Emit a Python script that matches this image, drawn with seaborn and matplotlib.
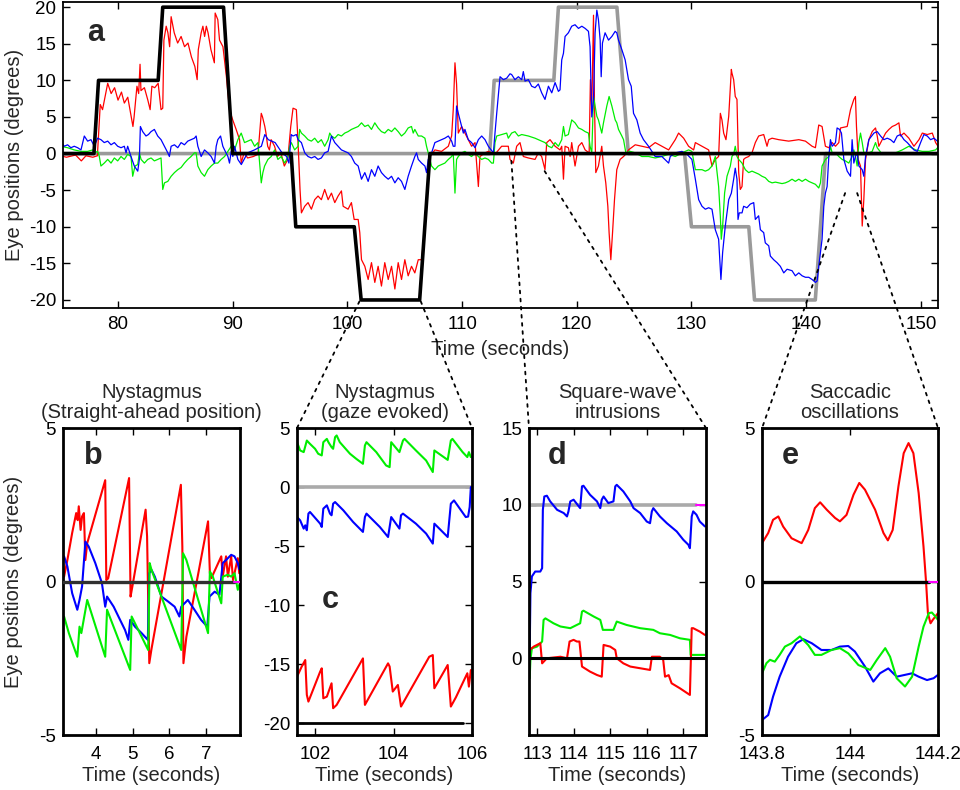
import matplotlib
matplotlib.use('Agg')
import matplotlib.pyplot as plt
from matplotlib.patches import ConnectionPatch
import pandas as pd
import seaborn as sns

sns.set_style('ticks')
plt.rcParams['font.family'] = ['Liberation Sans', 'DejaVu Sans']
plt.rcParams['axes.unicode_minus'] = False

RED, GREEN, BLUE = '#ff0000', '#00ee00', '#0000ff'
GRAY, MAGENTA = '#9a9a9a', '#ff00ff'

# ---- panel a : whole recording (time s, eye position deg) ----
a_black = [(75.2, 0), (77.9, 0), (78.3, 10), (83.5, 10), (83.9, 20), (89.2, 20), (90.0, 0), (95.1, 0),
           (95.5, -10), (100.6, -10), (101.2, -20), (106.3, -20), (107.2, 0), (151.5, 0)]
a_gray = [(75.2, 0), (112.4, 0), (112.8, 10), (118.0, 10), (118.4, 20), (123.5, 20), (124.5, 0), (129.4, 0),
          (130.0, -10), (135.0, -10), (135.5, -20), (140.8, -20), (141.7, 0), (151.5, 0)]

a_red = [(75.0,-0.3),(75.5,-0.5),(76.3,-0.2),(76.8,-1.0),(77.2,-0.3),(77.8,-0.5),(78.2,-0.3),(78.3,2.4),(78.45,6.7),(78.65,6.0),(79.1,9.6),(79.4,8.2),(79.7,9.0),(80.0,7.3),(80.3,8.4),(80.55,6.9),(80.85,7.7),(81.1,5.5),(81.3,3.7),(81.4,5.0),(81.65,9.2),(81.8,8.2),(81.92,12.2),(82.0,8.6),(82.3,9.0),(82.6,7.3),(82.8,6.0),(82.95,9.2),(83.2,9.0),(83.5,9.6),(83.75,6.0),(83.9,6.2),(84.0,15.5),(84.2,17.4),(84.35,16.5),(84.5,14.6),(84.63,18.7),(84.9,16.5),(85.2,15.1),(85.5,16.0),(85.8,14.6),(86.1,15.1),(86.4,13.2),(86.7,11.9),(86.9,10.1),(87.0,14.2),(87.25,16.5),(87.4,17.4),(87.55,16.0),(87.7,17.4),(87.85,16.5),(88.1,14.2),(88.4,12.4),(88.47,19.2),(88.7,18.3),(88.85,15.5),(89.15,14.6),(89.45,10.5),(89.72,6.0),(90.0,4.6),(90.3,3.3),(90.6,1.9),(90.74,-1.3),(90.9,-0.4),(91.0,0.1),(91.3,-0.6),(91.8,-0.4),(92.2,-0.1),(92.49,5.5),(92.6,5.0),(92.8,3.7),(92.9,2.8),(93.05,1.0),(93.2,0.5),(93.35,1.9),(93.65,1.0),(93.9,-0.4),(94.2,0.1),(94.5,-1.7),(94.8,-0.8),
         (95.06,3.7),(95.26,6.2),(95.55,6.0),(95.64,3.3),(95.75,-0.4),(95.87,-4.9),(95.99,-8.1),(96.28,-7.2),(96.57,-6.7),(96.86,-7.6),(97.15,-6.3),(97.44,-5.8),(97.73,-6.3),(98.02,-4.9),(98.32,-6.3),(98.61,-5.4),(98.9,-6.7),(99.19,-5.8),(99.48,-5.1),(99.63,-7.2),(100.06,-7.6),(100.35,-6.7),(100.59,-9.0),(100.94,-9.0),(101.08,-10.8),(101.23,-14.5),(101.52,-15.4),(101.81,-17.2),(102.1,-14.9),(102.39,-17.6),(102.68,-15.4),(102.97,-18.1),(103.26,-14.9),(103.56,-17.2),(103.85,-15.4),(104.14,-18.5),(104.43,-14.9),(104.72,-17.2),(105.01,-14.5),(105.3,-16.7),(105.59,-15.4),(105.88,-16.3),(106.18,-14.5),(106.47,-14.5),(106.7,-10.8),(106.9,-7.2),(107.05,-2.6),(107.2,-0.4),(107.63,0.5),(108.21,0.3),(108.8,1.0),(109.09,2.4),(109.23,6.0),(109.38,12.4),(109.52,9.5),(109.67,2.8),(109.96,3.7),(110.25,2.8),(110.54,1.9),(110.83,1.0),(111.13,1.5),(111.42,-4.5),(111.56,-0.4),(112.0,0.1),(112.29,0.3),(112.87,-0.1),
         (113.45,1.0),(114.03,1.0),(114.18,-0.8),(114.47,-1.3),(114.76,1.0),(115.05,1.5),(115.34,-0.4),(115.78,-0.6),(116.36,-0.8),(116.65,0.1),(116.94,-0.4),(117.23,-2.2),(117.38,1.5),(117.67,1.9),(118.11,1.0),(118.54,0.5),(118.69,1.0),(118.84,-3.5),(118.98,1.0),(119.27,0.8),(119.42,-0.4),(119.56,1.5),(119.85,-1.7),(120.15,1.0),(120.44,1.5),(120.73,0.5),(121.08,0.1),(121.19,10.1),(121.31,6.0),(121.46,18.9),(121.54,7.4),(121.66,-2.6),(121.89,-1.7),(122.18,1.0),(122.33,-1.7),(122.53,-4.0),(122.71,-7.2),(122.82,-10.8),(122.97,-14.5),(123.12,-10.8),(123.29,-6.3),(123.49,-2.2),(123.78,-0.8),(124.08,-0.4),(124.37,0.1),(124.51,0.5),(125.1,1.2),(125.68,1.0),(126.26,0.8),(126.84,1.5),(127.42,1.0),(128.01,0.5),(128.59,1.9),(128.88,2.8),(129.32,2.1),(129.75,1.0),(130.19,0.5),(130.34,1.5),(130.92,1.0),(131.5,0.5),(131.79,-1.7),(132.08,-0.8),(132.37,-0.4),(132.52,5.5),(132.66,4.6),(132.81,2.8),(133.01,1.9),(133.25,5.1),(133.48,11.5),
         (133.53,11.0),(133.68,10.1),(133.82,7.8),(133.97,7.4),(134.06,1.0),(134.12,-2.6),(134.26,-4.9),(134.41,-4.5),(134.55,-0.8),(134.7,-0.6),(134.99,-0.4),(135.28,0.1),(135.57,1.5),(135.86,2.4),(136.3,2.6),(136.59,1.0),(136.74,1.9),(137.03,2.1),(137.61,1.9),(138.48,1.7),(139.36,1.9),(139.94,1.7),(140.52,1.0),(140.81,0.8),(141.1,3.9),(141.39,3.7),(141.68,1.0),(141.98,0.8),(142.27,1.5),(142.56,1.0),(142.85,1.5),(143.0,3.5),(143.58,3.7),(143.87,6.0),(144.16,7.4),(144.3,7.8),(144.39,3.7),(144.54,-0.8),(144.74,-1.7),(144.89,-9.9),(145.03,-6.3),(145.18,-0.8),(145.47,1.9),(145.76,3.0),(146.05,3.5),(146.2,2.4),(146.34,1.0),(146.63,1.9),(146.93,2.8),(147.22,3.3),(147.51,3.7),(147.8,3.9),(148.09,4.2),(148.23,2.4),(148.53,2.8),(148.96,2.1),(149.4,1.0),(149.84,1.9),(150.13,2.8),(150.56,2.6),(151.0,2.8),(151.29,1.5),(151.58,0.8)]

a_blue = [(75.0,1.7),(75.31,1.0),(75.6,1.2),(75.89,0.8),(76.18,1.0),(76.48,0.8),(76.77,0.5),(77.06,2.4),(77.35,1.7),(77.64,1.9),(77.93,1.0),(78.22,2.1),(78.51,1.9),(78.8,1.5),(79.1,1.7),(79.39,1.2),(79.68,1.5),(79.97,1.0),(80.26,0.8),(80.55,1.0),(80.7,0.1),(80.84,1.0),(81.13,-0.4),(81.42,-1.7),(81.72,-2.4),(81.86,-0.8),(81.95,3.7),(82.15,3.0),(82.44,2.4),(82.65,2.6),(82.88,3.0),(83.17,3.3),(83.46,2.4),(83.75,1.9),(84.05,1.0),(84.34,0.1),(84.48,-0.4),(84.63,1.0),(84.92,1.2),(85.21,0.8),(85.5,1.5),(85.79,1.2),(86.08,1.7),(86.37,1.9),(86.66,2.1),(86.81,2.4),(86.96,1.0),(87.25,-0.4),(87.54,0.5),(87.83,0.1),(88.12,-0.4),(88.41,-1.3),(88.56,1.0),(88.7,1.9),(88.94,2.4),(89.14,1.0),(89.29,0.5),(89.58,-0.4),(89.72,-1.3),(89.87,0.3),(90.01,-0.4),(90.16,1.0),(90.45,-0.8),(90.75,-1.5),(91.3,0.1),(91.9,0.5),(92.5,1.0),(92.8,2.6),(93.1,1.9),(93.7,1.5),(94.3,0.1),(94.7,-0.4),(94.9,-1.3),(95.1,2.6),
          (95.26,2.4),(95.55,2.6),(95.7,1.9),(95.99,1.5),(96.28,0.1),(96.57,-0.4),(96.86,-0.6),(97.15,-0.4),(97.44,-0.8),(97.73,-0.6),(98.02,0.1),(98.32,0.3),(98.61,2.4),(98.9,1.5),(99.19,1.0),(99.48,0.5),(99.77,0.3),(100.06,0.1),(100.35,-0.4),(100.64,-1.3),(100.94,-1.7),(101.23,-3.5),(101.52,-2.6),(101.81,-3.8),(102.1,-2.2),(102.39,-3.1),(102.68,-1.7),(102.97,-2.6),(103.26,-3.1),(103.56,-3.5),(103.85,-3.1),(104.14,-4.0),(104.43,-3.3),(104.72,-3.8),(105.01,-4.9),(105.3,-3.1),(105.59,-1.7),(105.88,-0.4),(106.03,0.1),(106.18,-0.8),(106.47,-1.3),(106.76,-1.7),(106.9,-2.6),(107.05,-0.8),(107.34,0.1),(107.63,1.5),(107.92,1.7),(108.21,1.9),(108.5,2.1),(108.8,2.4),(109.09,1.7),(109.23,1.0),(109.38,1.0),(109.52,6.5),(109.67,5.5),(109.96,3.7),(110.11,2.8),(110.25,3.3),(110.54,1.9),(110.83,1.5),(111.13,0.8),(111.42,1.9),(111.71,2.4),(112.0,1.9),(112.29,1.0),(112.73,0.1),(112.87,2.8),(113.02,5.5),(113.31,10.5),(113.6,10.1),(113.89,10.3),(114.18,10.9),
          (114.32,10.8),(114.61,10.1),(114.91,10.5),(115.2,10.1),(115.34,11.2),(115.49,9.9),(115.78,10.1),(116.07,9.2),(116.36,9.0),(116.65,9.5),(116.94,8.3),(117.23,7.4),(117.53,9.2),(117.82,8.3),(118.11,9.7),(118.4,8.5),(118.54,8.7),(118.69,12.8),(118.84,13.7),(118.98,16.0),(119.27,16.5),(119.56,17.4),(119.85,17.6),(120.15,17.1),(120.44,17.4),(120.73,17.1),(121.02,16.7),(121.16,14.6),(121.31,5.0),(121.46,7.4),(121.6,16.5),(121.75,19.6),(121.89,18.3),(122.04,15.5),(122.13,10.5),(122.24,15.1),(122.47,16.5),(122.77,15.5),(123.06,16.0),(123.35,16.7),(123.49,16.5),(123.64,15.5),(123.93,14.2),(124.22,12.8),(124.51,10.1),(124.75,9.2),(124.95,5.5),(125.24,4.6),(125.53,2.8),(125.82,1.9),(126.26,1.0),(126.84,-0.4),(127.42,-0.4),(128.01,-1.3),(128.15,-0.4),(128.59,0.1),(129.17,0.3),(129.61,-0.1),(130.04,-0.8),(130.34,-3.5),(130.63,-6.3),(130.92,-7.2),(131.21,-7.6),(131.5,-7.4),(131.79,-7.6),(132.08,-10.4),(132.37,-11.7),(132.57,-17.2),(132.72,-13.5),(132.95,-9.9),(133.25,-6.3),(133.48,-5.4),
          (133.68,-3.5),(133.82,-2.0),(133.97,-3.5),(134.06,-9.0),(134.17,-8.1),(134.41,-8.1),(134.55,-7.2),(134.84,-7.4),(135.13,-6.9),(135.43,-6.7),(135.57,-9.0),(135.86,-8.5),(136.01,-10.4),(136.3,-10.8),(136.44,-12.2),(136.74,-12.6),(136.88,-14.0),(137.17,-14.5),(137.46,-14.9),(137.75,-15.4),(138.05,-16.3),(138.34,-15.8),(138.77,-16.0),(139.06,-16.7),(139.36,-16.3),(139.65,-16.7),(139.94,-16.9),(140.23,-16.9),(140.52,-17.2),(140.81,-17.6),(140.96,-17.4),(141.1,-15.4),(141.25,-13.5),(141.39,-11.7),(141.54,-7.2),(141.68,-5.4),(141.83,-4.5),(141.98,-0.4),(142.12,1.9),(142.27,1.0),(142.56,1.5),(142.7,3.5),(142.91,3.3),(143.08,2.8),(143.29,-0.8),(143.58,-2.4),(143.87,-3.1),(144.01,1.9),(144.16,-1.3),(144.3,-0.4),(144.45,0.1),(144.6,-1.7),(144.89,-2.2),(145.03,-3.1),(145.18,-0.4),(145.47,1.9),(145.91,2.8),(146.2,3.0),(146.49,2.4),(146.78,1.9),(147.07,2.1),(147.36,1.9),(147.65,1.5),(147.94,2.4),(148.23,2.6),(148.53,1.9),(148.82,1.5),(149.11,1.0),(149.4,0.5),(149.69,0.3),(149.98,1.5),(150.27,2.6),(150.56,2.4),(150.85,1.9),(151.15,2.1),(151.44,1.7),(151.64,1.5)]

a_green = [(75.02,1.0),(75.6,0.8),(76.18,0.5),(76.77,0.3),(77.35,0.3),(77.79,0.5),(77.93,0.1),(78.22,0.3),(78.37,-0.4),(78.51,-1.7),(78.8,-1.3),(79.1,-0.8),(79.39,-1.3),(79.68,-0.6),(79.97,-1.0),(80.26,-0.4),(80.55,-0.8),(80.84,-0.1),(81.13,-0.4),(81.28,-3.1),(81.48,-1.7),(81.72,-1.5),(81.86,0.1),(82.01,-0.8),(82.3,-1.3),(82.59,-0.8),(82.88,-0.6),(83.17,-1.0),(83.46,-0.8),(83.75,-0.6),(83.9,-4.9),(84.05,-4.0),(84.34,-3.8),(84.63,-3.1),(84.92,-2.6),(85.21,-2.2),(85.5,-1.9),(85.79,-1.3),(86.08,-0.8),(86.37,-0.4),(86.66,0.1),(86.81,0.1),(86.96,-1.7),(87.25,-2.6),(87.54,-3.1),(87.83,-2.2),(88.12,-1.7),(88.41,-1.3),(88.7,-1.3),(88.99,-0.8),(89.29,-0.4),(89.58,0.3),(89.87,1.0),(90.16,0.5),(90.45,1.9),(90.74,2.8),(91.03,1.5),(91.32,1.7),(91.61,1.9),(91.91,1.0),(92.2,1.5),(92.49,-4.0),(92.63,-2.6),(92.78,-1.7),(93.07,-0.8),(93.36,-0.4),(93.65,0.5),(93.94,-0.8),(94.23,-0.4),(94.53,-1.3),(94.82,-0.4),
           (94.97,1.0),(95.11,1.5),(95.4,0.5),(95.7,1.0),(95.84,3.3),(95.99,2.8),(96.28,2.4),(96.57,1.9),(96.86,1.7),(97.15,2.1),(97.44,1.5),(97.73,1.9),(98.02,1.0),(98.32,1.9),(98.46,2.8),(98.61,2.4),(98.9,2.1),(99.19,2.6),(99.48,2.4),(99.77,2.8),(100.06,3.0),(100.35,3.3),(100.64,3.5),(100.94,3.7),(101.23,4.2),(101.52,3.7),(101.81,3.9),(102.1,3.3),(102.39,4.2),(102.68,3.5),(102.97,3.0),(103.26,2.8),(103.56,3.3),(103.85,3.0),(104.14,3.5),(104.43,3.0),(104.72,2.4),(105.01,2.8),(105.3,3.5),(105.59,3.7),(105.74,2.8),(105.88,3.3),(106.18,2.4),(106.47,2.4),(106.76,2.1),(106.9,1.0),(107.05,0.1),(107.34,-1.7),(107.63,-2.2),(107.92,-1.7),(108.21,-1.5),(108.5,-1.3),(108.8,-0.8),(109.09,-0.4),(109.23,0.1),(109.38,-5.4),(109.52,-0.8),(109.67,-0.4),(109.96,0.1),(110.25,0.3),(110.54,-0.1),(110.83,-0.4),(111.13,0.1),(111.42,-0.4),(111.71,-0.8),(112.0,-0.6),(112.29,-0.8),(112.58,-1.3),(112.73,-1.3),(112.87,1.5),(113.02,2.4),(113.45,2.6),(113.89,2.8),
           (114.03,2.1),(114.32,2.8),(114.61,3.0),(114.91,2.4),(115.2,2.6),(115.78,2.4),(116.36,2.1),(116.65,1.9),(116.94,1.7),(117.23,1.5),(117.53,1.0),(117.82,0.8),(118.11,1.5),(118.4,1.0),(118.69,1.9),(118.84,3.7),(118.98,2.4),(119.27,2.6),(119.56,4.6),(119.85,4.2),(120.15,3.5),(120.44,3.3),(120.73,3.0),(121.02,2.8),(121.16,1.0),(121.31,0.1),(121.46,7.8),(121.6,6.5),(121.75,5.1),(121.89,4.6),(122.18,2.8),(122.33,4.2),(122.62,6.5),(122.82,7.8),(123.06,6.5),(123.35,4.6),(123.49,4.2),(123.64,3.3),(123.93,2.4),(124.08,1.9),(124.28,0.1),(124.66,0.3),(125.1,0.1),(125.68,-0.4),(126.26,-0.4),(126.84,-0.6),(127.42,-0.4),(128.01,-0.1),(128.59,-0.4),(129.17,0.1),(129.75,0.5),(130.04,0.3),(130.34,-2.2),(130.63,-2.2),(130.92,-2.2),(131.21,-2.4),(131.5,-2.2),(131.79,-1.7),(132.08,-0.4),(132.37,-4.5),(132.52,-8.6),(132.6,-11.7),(132.72,-9.9),(132.89,-5.4),(133.1,-3.1),(133.39,-1.7),
           (133.53,-0.4),(133.68,-0.1),(133.82,1.0),(133.97,-0.4),(134.12,-0.8),(134.41,-1.3),(134.7,-2.2),(134.99,-2.6),(135.28,-2.4),(135.57,-2.6),(135.86,-2.8),(136.15,-3.1),(136.44,-3.3),(136.74,-3.8),(137.03,-4.0),(137.32,-3.9),(137.61,-4.0),(137.9,-4.1),(138.19,-4.0),(138.48,-3.8),(138.77,-3.5),(139.06,-3.8),(139.36,-3.5),(139.65,-3.8),(139.94,-3.5),(140.23,-3.8),(140.52,-4.0),(140.81,-4.2),(141.1,-4.7),(141.25,-4.0),(141.39,-1.7),(141.68,-0.8),(141.98,-0.4),(142.12,1.0),(142.27,0.1),(142.56,0.1),(142.85,-0.4),(143.14,-0.8),(143.43,-1.0),(143.72,-1.3),(144.01,-0.4),(144.16,0.5),(144.3,-0.4),(144.45,-1.7),(144.6,1.5),(144.74,2.8),(144.89,1.5),(145.03,0.1),(145.47,0.1),(145.76,0.3),(146.05,1.5),(146.2,0.8),(146.63,-0.1),(147.22,-0.1),(147.8,0.1),(148.38,0.5),(148.96,1.0),(149.55,0.5),(150.13,0.3),(150.71,0.3),(151.29,0.5),(151.58,1.0)]

# ---- panel b : nystagmus, straight-ahead ----
b_red = [(3.13,0.16),(3.22,0.7),(3.35,1.58),(3.46,2.23),(3.5,2.0),(3.53,2.45),(3.58,1.68),(3.62,2.12),(3.67,2.23),(3.71,0.7),(3.76,1.25),(4.25,3.3),(4.28,0.05),(4.33,0.1),(4.9,3.37),(4.94,-0.49),(4.99,-0.16),(5.35,2.34),(5.39,1.47),(5.45,-2.66),(5.51,-2.2),(6.31,3.15),(6.35,1.14),(6.38,-2.66),(6.46,-1.8),(7.05,1.96),(7.1,0.27),(7.14,0.11),(7.41,0.82),(7.45,0.16),(7.54,0.82),(7.59,0.16),(7.68,0.82),(7.73,0.05),(7.86,0.76),(7.9,0.27)]
b_blue = [(3.13,0.82),(3.22,0.49),(3.35,-0.38),(3.49,-0.92),(3.55,-0.6),(3.62,-0.16),(3.71,1.3),(3.8,1.14),(3.98,0.6),(4.16,-0.05),(4.25,-0.82),(4.3,-0.49),(4.48,-0.82),(4.61,-1.14),(4.79,-1.58),(4.88,-1.9),(4.93,-1.25),(5.06,-1.47),(5.24,-1.68),(5.41,-1.9),(5.45,0.27),(5.51,0.38),(5.6,0.16),(5.69,-0.16),(5.78,-0.49),(5.96,-0.65),(6.14,-0.82),(6.27,-1.14),(6.32,-0.82),(6.5,-0.6),(6.68,-0.92),(6.86,-1.25),(7.03,-1.47),(7.09,-0.49),(7.23,-0.33),(7.36,-0.43),(7.45,0.6),(7.54,0.7),(7.68,0.87),(7.77,0.82),(7.86,0.6),(7.9,0.4)]
b_green = [(3.13,-1.14),(3.26,-1.68),(3.49,-2.45),(3.55,-1.47),(3.6,-1.68),(3.76,-0.6),(4.25,-2.45),(4.3,-0.92),(4.93,-2.88),(4.97,-1.14),(5.42,-2.23),(5.46,0.6),(5.51,0.38),(6.32,-2.23),(6.37,0.92),(6.46,0.7),(7.05,-1.68),(7.1,0.33),(7.18,0.16),(7.41,-0.71),(7.45,0.16),(7.59,0.22),(7.68,0.16),(7.77,0.27),(7.86,-0.27),(7.9,-0.1)]
b_zero = [(3.1, 0), (7.75, 0)]
b_end = [(7.75, 0), (7.92, 0)]

# ---- panel c : gaze-evoked nystagmus ----
c_green = [(101.54,3.8),(101.62,3.1),(101.71,2.96),(101.79,3.94),(101.87,3.66),(102.0,3.24),(102.08,2.82),(102.17,2.68),(102.21,3.8),(102.3,4.08),(102.34,3.8),(102.42,3.38),(102.46,3.24),(102.51,4.23),(102.55,4.37),(102.63,3.8),(102.89,2.82),(103.05,2.39),(103.22,1.97),(103.27,3.52),(103.31,3.8),(103.56,2.96),(103.81,1.83),(103.9,1.69),(103.94,3.8),(104.15,2.96),(104.24,3.94),(104.28,4.08),(104.57,3.1),(104.83,2.25),(105.0,1.27),(105.04,3.1),(105.38,2.3),(105.46,3.94),(105.5,4.08),(105.76,2.96),(105.88,2.54),(105.92,2.96),(105.97,2.54)]
c_blue = [(101.54,-2.54),(101.62,-2.82),(101.71,-3.52),(101.75,-3.24),(101.79,-3.66),(101.83,-2.25),(101.87,-2.11),(102.13,-3.1),(102.17,-3.38),(102.21,-1.83),(102.3,-1.55),(102.38,-2.25),(102.42,-2.39),(102.46,-1.41),(102.51,-1.27),(102.72,-1.97),(102.97,-2.96),(103.22,-3.8),(103.27,-2.54),(103.31,-2.25),(103.65,-3.38),(103.86,-4.23),(103.94,-2.54),(104.15,-3.52),(104.19,-2.39),(104.24,-2.25),(104.57,-3.1),(104.83,-3.94),(105.0,-4.79),(105.04,-3.1),(105.38,-4.23),(105.46,-1.41),(105.54,-1.13),(105.84,-2.54),(105.9,-2.5),(105.94,-1.69),(105.97,0.0)]
c_red = [(101.54,-16.06),(101.66,-15.2),(101.75,-14.65),(101.79,-17.6),(101.83,-18.17),(102.13,-15.63),(102.17,-15.35),(102.21,-17.89),(102.3,-17.75),(102.42,-16.62),(102.46,-18.73),(102.55,-18.45),(103.22,-14.51),(103.27,-18.45),(103.86,-14.93),(103.9,-15.2),(103.98,-17.32),(104.11,-16.76),(104.19,-18.59),(104.91,-14.37),(105.0,-14.23),(105.04,-17.04),(105.38,-15.07),(105.46,-18.59),(105.59,-17.8),(105.88,-15.77),(105.92,-16.9),(105.97,-15.5)]
c_gray = [(101.54, 0), (106.0, 0)]
c_black = [(101.54, -20), (105.76, -20)]

# ---- panel d : square-wave intrusions ----
d_blue = [(112.8,0.33),(112.82,4.24),(112.86,5.33),(112.95,5.65),(113.09,5.65),(113.14,5.87),(113.16,9.67),(113.2,10.54),(113.27,10.59),(113.36,10.22),(113.55,9.67),(113.73,9.46),(113.82,9.24),(113.86,9.57),(113.91,10.22),(114.0,10.33),(114.18,9.78),(114.23,11.2),(114.27,11.24),(114.45,10.65),(114.64,10.22),(114.73,9.78),(114.77,10.33),(114.82,10.54),(114.95,10.11),(115.09,10.22),(115.14,11.2),(115.18,11.3),(115.36,10.87),(115.55,10.22),(115.64,9.78),(115.82,9.46),(116.0,8.91),(116.09,8.8),(116.14,9.57),(116.18,9.78),(116.36,9.24),(116.55,8.8),(116.82,8.26),(117.0,7.72),(117.14,7.39),(117.18,7.17),(117.23,9.24),(117.27,9.57),(117.36,9.35),(117.45,8.91),(117.59,8.59)]
d_green = [(112.8,-1.3),(112.82,-0.1),(112.86,0.65),(113.0,0.76),(113.14,1.09),(113.18,2.5),(113.23,2.6),(113.45,2.28),(113.64,2.07),(113.91,1.96),(114.18,2.28),(114.23,3.04),(114.27,3.1),(114.55,2.72),(114.73,2.5),(114.8,1.85),(115.09,1.85),(115.18,2.39),(115.45,2.17),(115.82,1.96),(116.18,1.85),(116.36,1.63),(116.64,1.52),(116.91,1.3),(117.18,1.2),(117.2,0.22),(117.59,0.22)]
d_red = [(112.8,0.54),(112.91,0.76),(113.09,0.98),(113.14,-0.33),(113.27,0.0),(113.64,0.1),(113.82,0.0),(113.89,1.09),(114.0,1.2),(114.09,1.09),(114.16,1.09),(114.23,-0.54),(114.45,-0.87),(114.64,-1.09),(114.77,-1.2),(114.82,0.87),(115.0,0.76),(115.14,0.54),(115.18,0.0),(115.36,-0.33),(115.55,-0.54),(115.82,-0.65),(116.09,-0.76),(116.14,0.1),(116.36,0.1),(116.45,-0.1),(116.5,-1.2),(116.6,-1.1),(116.68,-1.63),(116.91,-1.96),(117.18,-2.39),(117.23,1.96),(117.27,1.96),(117.45,1.74),(117.59,1.52)]
d_gray = [(112.8, 10), (117.35, 10)]
d_end = [(117.35, 10), (117.6, 10)]
d_black = [(112.8, 0), (117.6, 0)]

# ---- panel e : saccadic oscillations ----
e_red = [(143.8,1.25),(143.814,1.58),(143.825,2.01),(143.837,2.12),(143.848,1.79),(143.867,1.41),(143.89,1.25),(143.905,1.68),(143.92,2.39),(143.932,2.58),(143.947,2.34),(143.966,2.07),(143.977,1.96),(143.992,2.17),(144.008,2.83),(144.021,3.21),(144.034,2.99),(144.057,2.34),(144.076,1.58),(144.086,1.34),(144.097,1.68),(144.11,3.1),(144.122,4.18),(144.133,4.51),(144.144,4.18),(144.156,2.88),(144.167,1.14),(144.173,-0.05),(144.177,-1.03),(144.183,-1.36),(144.188,-1.25),(144.194,-1.14),(144.2,-1.03)]
e_green = [(143.8,-2.99),(143.81,-2.66),(143.818,-2.55),(143.829,-2.61),(143.84,-2.39),(143.852,-2.12),(143.867,-2.01),(143.886,-1.79),(143.905,-2.07),(143.92,-2.39),(143.935,-2.39),(143.958,-2.23),(143.977,-2.17),(143.996,-2.34),(144.019,-2.72),(144.046,-2.88),(144.061,-2.55),(144.08,-2.17),(144.091,-2.45),(144.106,-3.15),(144.125,-3.42),(144.141,-3.1),(144.156,-2.12),(144.167,-1.47),(144.179,-1.03),(144.186,-1.01),(144.194,-1.14),(144.2,-1.25)]
e_blue = [(143.8,-4.51),(143.814,-4.35),(143.825,-3.75),(143.84,-3.1),(143.859,-2.45),(143.878,-2.01),(143.894,-1.88),(143.913,-2.01),(143.935,-2.23),(143.958,-2.23),(143.977,-2.12),(143.996,-2.1),(144.011,-2.28),(144.034,-2.77),(144.053,-3.26),(144.068,-2.99),(144.087,-2.83),(144.106,-3.1),(144.125,-3.04),(144.141,-2.99),(144.156,-3.1),(144.175,-3.21),(144.19,-3.15),(144.2,-3.04)]
e_black = [(143.8, 0), (144.18, 0)]
e_end = [(144.18, 0), (144.2, 0)]

LABEL_FS = 14.5
TICK_FS = 13.5


def draw(ax, pts, color, lw, z=2):
    df = pd.DataFrame(pts, columns=['t', 'y'])
    sns.lineplot(data=df, x='t', y='y', ax=ax, color=color, linewidth=lw,
                 sort=False, estimator=None, zorder=z)


def style(ax, spine_lw, xpad=5):
    for s in ax.spines.values():
        s.set_linewidth(spine_lw)
        s.set_color('black')
    ax.tick_params(direction='in', top=True, right=True, length=5, width=1,
                   labelsize=TICK_FS, pad=5, colors='black')
    ax.tick_params(axis='x', pad=xpad)
    ax.set_xlabel('')
    ax.set_ylabel('')


fig = plt.figure(figsize=(9.6, 7.9), dpi=100)

# top panel
ax_a = fig.add_axes([0.0656, 0.6101, 0.9115, 0.3873])
draw(ax_a, a_gray, GRAY, 2.6, 1)
draw(ax_a, a_red, RED, 0.9)
draw(ax_a, a_green, GREEN, 0.9)
draw(ax_a, a_blue, BLUE, 0.9)
draw(ax_a, a_black, 'black', 2.6, 3)
ax_a.set_xlim(75.2, 151.5)
ax_a.set_ylim(-21.1, 20.7)
ax_a.set_xticks(range(80, 151, 10))
ax_a.set_yticks(range(-20, 21, 5))
style(ax_a, 1.3, xpad=6)
ax_a.set_xlabel('Time (seconds)', fontsize=LABEL_FS, labelpad=5)
ax_a.set_ylabel('Eye positions (degrees)', fontsize=LABEL_FS)
ax_a.yaxis.set_label_coords(-0.044, 0.5)
ax_a.text(0.037, 0.9, 'a', transform=ax_a.transAxes, fontsize=22,
          fontweight='bold', ha='center', va='center')

# bottom panels
ax_b = fig.add_axes([0.0656, 0.0696, 0.1844, 0.3886])
ax_c = fig.add_axes([0.3094, 0.0696, 0.1823, 0.3886])
ax_d = fig.add_axes([0.5510, 0.0696, 0.1844, 0.3886])
ax_e = fig.add_axes([0.7938, 0.0696, 0.1833, 0.3886])

draw(ax_b, b_red, RED, 1.5)
draw(ax_b, b_blue, BLUE, 1.5)
draw(ax_b, b_green, GREEN, 1.5)
draw(ax_b, b_zero, '#303030', 2.4, 3)
draw(ax_b, b_end, MAGENTA, 1.5, 3)
ax_b.set_xlim(3.1, 7.92)
ax_b.set_ylim(-5, 5)
ax_b.set_xticks([4, 5, 6, 7])
ax_b.set_yticks([-5, 0, 5])

draw(ax_c, c_gray, '#aaaaaa', 2.6, 1)
draw(ax_c, c_green, GREEN, 1.5)
draw(ax_c, c_blue, BLUE, 1.5)
draw(ax_c, c_red, RED, 1.5)
draw(ax_c, c_black, 'black', 2.0, 3)
ax_c.set_xlim(101.54, 106.0)
ax_c.set_ylim(-21, 5)
ax_c.set_xticks([102, 104, 106])
ax_c.set_yticks([-20, -15, -10, -5, 0, 5])

draw(ax_d, d_gray, '#aaaaaa', 2.6, 1)
draw(ax_d, d_end, MAGENTA, 1.5, 1)
draw(ax_d, d_blue, BLUE, 1.5)
draw(ax_d, d_green, GREEN, 1.5)
draw(ax_d, d_red, RED, 1.5)
draw(ax_d, d_black, 'black', 2.2, 3)
ax_d.set_xlim(112.78, 117.62)
ax_d.set_ylim(-5, 15)
ax_d.set_xticks([113, 114, 115, 116, 117])
ax_d.set_yticks([-5, 0, 5, 10, 15])
ax_d.set_yticklabels(['', '0', '5', '10', '15'])

draw(ax_e, e_red, RED, 1.5)
draw(ax_e, e_blue, BLUE, 1.5)
draw(ax_e, e_green, GREEN, 1.5)
draw(ax_e, e_black, 'black', 2.4, 3)
draw(ax_e, e_end, MAGENTA, 1.5, 3)
ax_e.set_xlim(143.8, 144.2)
ax_e.set_ylim(-5, 5)
ax_e.set_xticks([143.8, 144.0, 144.2])
ax_e.set_xticklabels(['143.8', '144', '144.2'])
ax_e.set_yticks([-5, 0, 5])

titles = ['Nystagmus\n(Straight-ahead position)', 'Nystagmus\n(gaze evoked)',
          'Square-wave\nintrusions', 'Saccadic\noscillations']
letters = [('b', 0.17, 0.91), ('c', 0.19, 0.44), ('d', 0.16, 0.91), ('e', 0.16, 0.91)]
for ax, title, (let, lx, ly) in zip([ax_b, ax_c, ax_d, ax_e], titles, letters):
    style(ax, 2.0, xpad=8)
    ax.set_title(title, fontsize=LABEL_FS, pad=7, linespacing=1.1)
    ax.set_xlabel('Time (seconds)', fontsize=LABEL_FS, labelpad=2)
    ax.text(lx, ly, let, transform=ax.transAxes, fontsize=22,
            fontweight='bold', ha='center', va='center')
ax_b.set_ylabel('Eye positions (degrees)', fontsize=LABEL_FS)
ax_b.yaxis.set_label_coords(-0.225, 0.5)

# dotted zoom connectors from panel a to the detail panels
zooms = [(ax_c, (101.05, -20.2), (106.4, -20.2)),
         (ax_d, (114.3, -1.0), (117.2, -2.4)),
         (ax_e, (143.4, -5.4), (144.45, -5.4))]
for ax, left_pt, right_pt in zooms:
    for pt, corner in [(left_pt, (0, 1)), (right_pt, (1, 1))]:
        con = ConnectionPatch(xyA=pt, coordsA='data', axesA=ax_a,
                              xyB=corner, coordsB='axes fraction', axesB=ax,
                              linestyle=(0, (1.5, 3)), linewidth=1.3, color='black',
                              zorder=10)
        fig.add_artist(con)

fig.savefig('out.png', dpi=100)
